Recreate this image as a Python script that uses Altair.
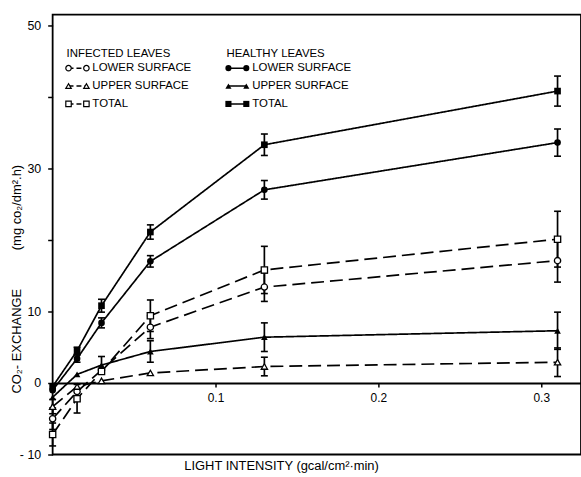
import altair as alt
import pandas as pd

# ---- data ----
light = [0.0, 0.015, 0.03, 0.06, 0.13, 0.31]

healthy_lower = [-1.0, 3.4, 8.4, 17.0, 27.0, 33.6]
healthy_lower_err = [0, 0.5, 0.7, 0.8, 1.3, 1.9]
healthy_upper = [-2.0, 1.2, 2.5, 4.4, 6.4, 7.3]
healthy_upper_err = [0, 0, 1.2, 1.5, 2.0, 2.6]
healthy_total = [-0.5, 4.5, 10.8, 21.1, 33.3, 40.8]
healthy_total_err = [0, 0.5, 0.9, 1.0, 1.5, 2.1]

infected_lower = [-5.0, -1.2, 1.8, 7.8, 13.4, 17.1]
infected_lower_err = [1.5, 0, 0, 1.6, 2.0, 3.0]
infected_upper = [-3.3, -0.5, 0.3, 1.4, 2.3, 2.9]
infected_upper_err = [1.0, 0, 0, 0, 1.3, 2.0]
infected_total = [-7.2, -2.2, 1.6, 9.4, 15.8, 20.1]
infected_total_err = [1.6, 2.0, 0, 2.2, 3.3, 3.9]

surfaces = ["LOWER SURFACE", "UPPER SURFACE", "TOTAL"]
groups = ["INFECTED LEAVES", "HEALTHY LEAVES"]
x_ticks = [0.1, 0.2, 0.3]
y_ticks = [-10, 0, 10, 20, 30, 40, 50]

series = [
    ("HEALTHY LEAVES", "LOWER SURFACE", healthy_lower, healthy_lower_err),
    ("HEALTHY LEAVES", "UPPER SURFACE", healthy_upper, healthy_upper_err),
    ("HEALTHY LEAVES", "TOTAL", healthy_total, healthy_total_err),
    ("INFECTED LEAVES", "LOWER SURFACE", infected_lower, infected_lower_err),
    ("INFECTED LEAVES", "UPPER SURFACE", infected_upper, infected_upper_err),
    ("INFECTED LEAVES", "TOTAL", infected_total, infected_total_err),
]
rows = []
for g, s, ys, es in series:
    for xv, yv, ev in zip(light, ys, es):
        rows.append({"group": g, "surface": s, "series": g + s, "x": xv, "y": yv,
                     "lo": yv - ev, "hi": yv + ev, "err": ev})
df = pd.DataFrame(rows)

FONT = "Liberation Sans"
xs = alt.Scale(domain=[0, 0.3244], nice=False, zero=False)
ys_ = alt.Scale(domain=[-10, 51.5], nice=False, zero=False)
shape_scale = alt.Scale(domain=surfaces, range=["circle", "triangle-up", "square"])

X = alt.X("x:Q", scale=xs, axis=alt.Axis(
    values=x_ticks, offset=-72, tickSize=4, labelPadding=6, domainColor="black",
    tickColor="black", labelColor="black", labelFont=FONT, labelFontSize=12,
    labelExpr="datum.value == 0.1 ? '0.1' : datum.value == 0.2 ? '0.2' : '0.3'",
    grid=False, domainWidth=1.8, tickWidth=1.5,
    title="LIGHT INTENSITY  (gcal/cm²·min)", titleFont=FONT, titleFontSize=13,
    titleFontWeight="normal", titleColor="black", titleX=230, titleY=83,
    titleAnchor="middle", titleAlign="center", titleBaseline="middle"))
Y = alt.Y("y:Q", scale=ys_, axis=alt.Axis(
    values=y_ticks, tickSize=5, labelPadding=7, domain=False, grid=False,
    tickColor="black", labelColor="black", labelFont=FONT, labelFontSize=12.5,
    tickWidth=1.5,
    labelExpr="datum.value == -10 ? '- 10' : (datum.value == 0 || datum.value % 20 == 10) ? datum.label : ''",
    title="CO₂- EXCHANGE\u2003\u2003\u2003(mg co₂/dm².h)", titleFont=FONT, titleFontSize=13,
    titleFontWeight="normal", titleColor="black", titleAngle=270, titleX=-36,
    titleY=266, titleAlign="center", titleBaseline="middle"))

base = alt.Chart(df)

lines = base.mark_line(color="black", strokeWidth=1.7).encode(
    x=X, y=Y, detail="series:N",
    strokeDash=alt.StrokeDash("group:N", scale=alt.Scale(domain=groups, range=[[13, 6], [1, 0]]), legend=None),
)

ebars = base.transform_filter("datum.err > 0").mark_rule(color="black", strokeWidth=1.7).encode(
    x="x:Q", y="lo:Q", y2="hi:Q")
cap_lo = base.transform_filter("datum.err > 0").mark_tick(
    color="black", orient="horizontal", size=7, thickness=1.6, opacity=1).encode(x="x:Q", y="lo:Q")
cap_hi = base.transform_filter("datum.err > 0").mark_tick(
    color="black", orient="horizontal", size=7, thickness=1.6, opacity=1).encode(x="x:Q", y="hi:Q")

pts_h = base.transform_filter("datum.group == 'HEALTHY LEAVES'").mark_point(
    filled=True, color="black", size=45, opacity=1).encode(
    x="x:Q", y="y:Q", shape=alt.Shape("surface:N", scale=shape_scale, legend=None))
pts_i = base.transform_filter("datum.group == 'INFECTED LEAVES'").mark_point(
    fill="white", stroke="black", strokeWidth=1.3, size=40, opacity=1, fillOpacity=1).encode(
    x="x:Q", y="y:Q", shape=alt.Shape("surface:N", scale=shape_scale, legend=None))

# ---- hand-made legend (two columns) ----
one = pd.DataFrame({"k": [0]})
leg_layers = []
cols = [("INFECTED LEAVES", 14, [5, 3], False), ("HEALTHY LEAVES", 175, [1, 0], True)]
shapes = ["circle", "triangle-up", "square"]
for title, x0, dash, filled in cols:
    leg_layers.append(alt.Chart(one).mark_text(
        text=title, align="left", baseline="middle", font=FONT, fontSize=11.5, color="black"
    ).encode(x=alt.value(x0), y=alt.value(40)))
    for i, (lab, shp) in enumerate(zip(surfaces, shapes)):
        yy = 54 + 18 * i
        leg_layers.append(alt.Chart(one).mark_rule(
            color="black", strokeWidth=1.6, strokeDash=dash).encode(
            x=alt.value(x0 + 2), x2=alt.value(x0 + 20), y=alt.value(yy)))
        for xm in (x0 + 2, x0 + 20):
            if filled:
                m = alt.Chart(one).mark_point(shape=shp, filled=True, color="black", size=38, opacity=1)
            else:
                m = alt.Chart(one).mark_point(shape=shp, fill="white", stroke="black",
                                              strokeWidth=1.2, size=30, opacity=1, fillOpacity=1)
            leg_layers.append(m.encode(x=alt.value(xm), y=alt.value(yy)))
        leg_layers.append(alt.Chart(one).mark_text(
            text=lab, align="left", baseline="middle", font=FONT, fontSize=11.5, color="black"
        ).encode(x=alt.value(x0 + 26), y=alt.value(yy)))

chart = alt.layer(lines, ebars, cap_lo, cap_hi, pts_i, pts_h, *leg_layers).properties(
    width=532, height=443,
    autosize=alt.AutoSizeParams(type="none"),
    padding={"left": 53, "top": 13, "right": 0, "bottom": 21},
    background="white",
).configure_view(stroke="black", strokeWidth=1.8)

chart.save("out.html", embed_options={"renderer": "svg", "actions": False})
